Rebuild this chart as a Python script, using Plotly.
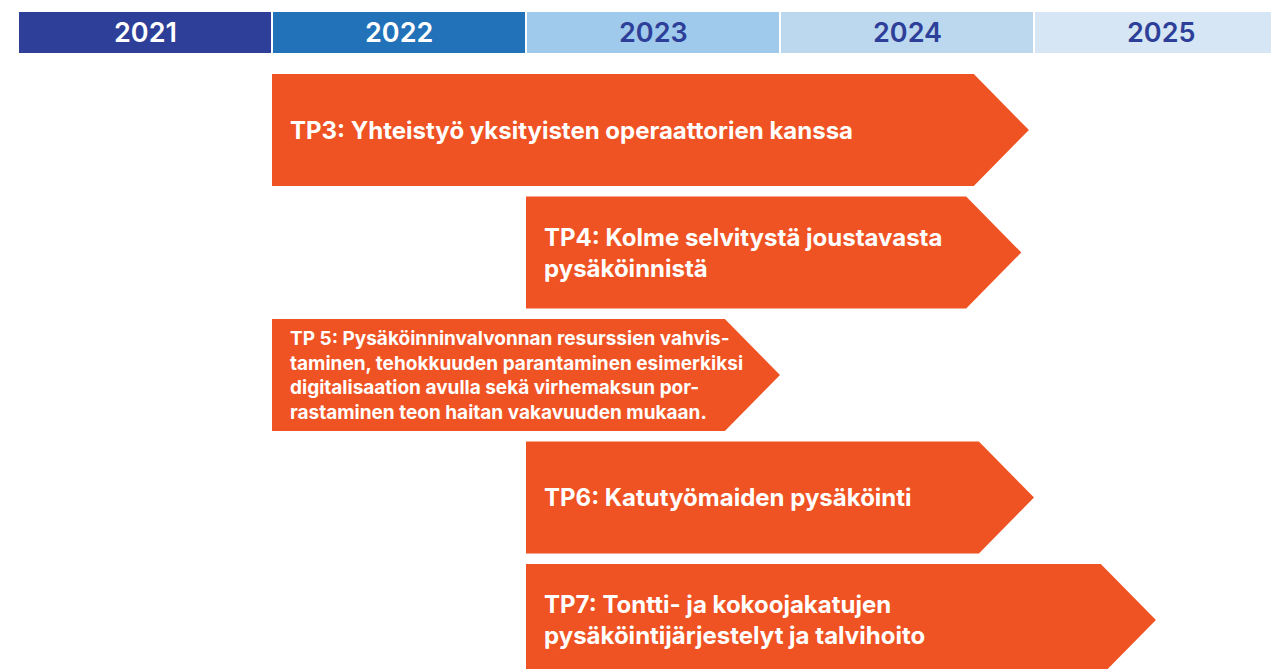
import plotly.graph_objects as go

# ---- data ----
years = [2021, 2022, 2023, 2024, 2025]
year_colors = ["#2D3F98", "#2272B9", "#9FCAEB", "#BCD8EF", "#D6E6F5"]
year_text_colors = ["#FFFFFF", "#FFFFFF", "#2D3F98", "#2D3F98", "#2D3F98"]

task_labels = [
    "TP3: Yhteistyö yksityisten operaattorien kanssa",
    "TP4: Kolme selvitystä joustavasta<br>pysäköinnistä",
    "TP 5: Pysäköinninvalvonnan resurssien vahvis-<br>taminen, tehokkuuden parantaminen esimerkiksi<br>digitalisaation avulla sekä virhemaksun por-<br>rastaminen teon haitan vakavuuden mukaan.",
    "TP6: Katutyömaiden pysäköinti",
    "TP7: Tontti- ja kokoojakatujen<br>pysäköintijärjestelyt ja talvihoito",
]
task_start = [2022.0, 2023.0, 2022.0, 2023.0, 2023.0]
task_end = [2024.98, 2024.95, 2024.0, 2025.0, 2025.48]
task_rows = [0, 1, 2, 3, 4]

# ---- style ----
ORANGE = "#F05323"
TIP = 0.217        # arrow tip length in years
HALF_H = 0.457     # half arrow height in rows
HEADER_ROW = -0.796
HEADER_HALF = 0.176
PAD = 0.063
FONT = "Inter"

fig = go.Figure()

# header cells
for yr, col in zip(years, year_colors):
    fig.add_shape(type="rect", xref="x", yref="y",
                  x0=yr, x1=yr + 1, y0=HEADER_ROW - HEADER_HALF, y1=HEADER_ROW + HEADER_HALF,
                  fillcolor=col, line=dict(color="white", width=2), layer="below")
for yr, tc in zip(years, year_text_colors):
    fig.add_annotation(x=yr + 0.5, y=HEADER_ROW, text="%d" % yr, showarrow=False,
                       xanchor="center", yanchor="middle",
                       font=dict(family=FONT, size=27, weight=600, color=tc))

# arrows
for lab, s, e, r in zip(task_labels, task_start, task_end, task_rows):
    xs = [s, e - TIP, e, e - TIP, s, s]
    ys = [r - HALF_H, r - HALF_H, r, r + HALF_H, r + HALF_H, r - HALF_H]
    fig.add_trace(go.Scatter(x=xs, y=ys, mode="lines", fill="toself",
                             fillcolor=ORANGE, line=dict(color=ORANGE, width=0),
                             hoverinfo="skip", showlegend=False))
    small = lab.startswith("TP 5")
    fig.add_annotation(x=s + PAD, y=r, text="<b>" + lab + "</b>", showarrow=False,
                       xanchor="left", yanchor="middle", align="left",
                       font=dict(family=FONT, size=19 if small else 24, color="white"))

fig.update_layout(
    width=1271, height=669,
    margin=dict(l=0, r=0, t=0, b=0),
    paper_bgcolor="white", plot_bgcolor="white",
    xaxis=dict(range=[2021 - 18 / 254, 2021 + (1271 - 18) / 254], visible=False, fixedrange=True),
    yaxis=dict(range=[(669 - 130) / 122.5, -130 / 122.5], visible=False, fixedrange=True),
    showlegend=False,
)

fig.write_html("out.html", config={"displayModeBar": False},
               post_script="document.body.style.margin='0';")
